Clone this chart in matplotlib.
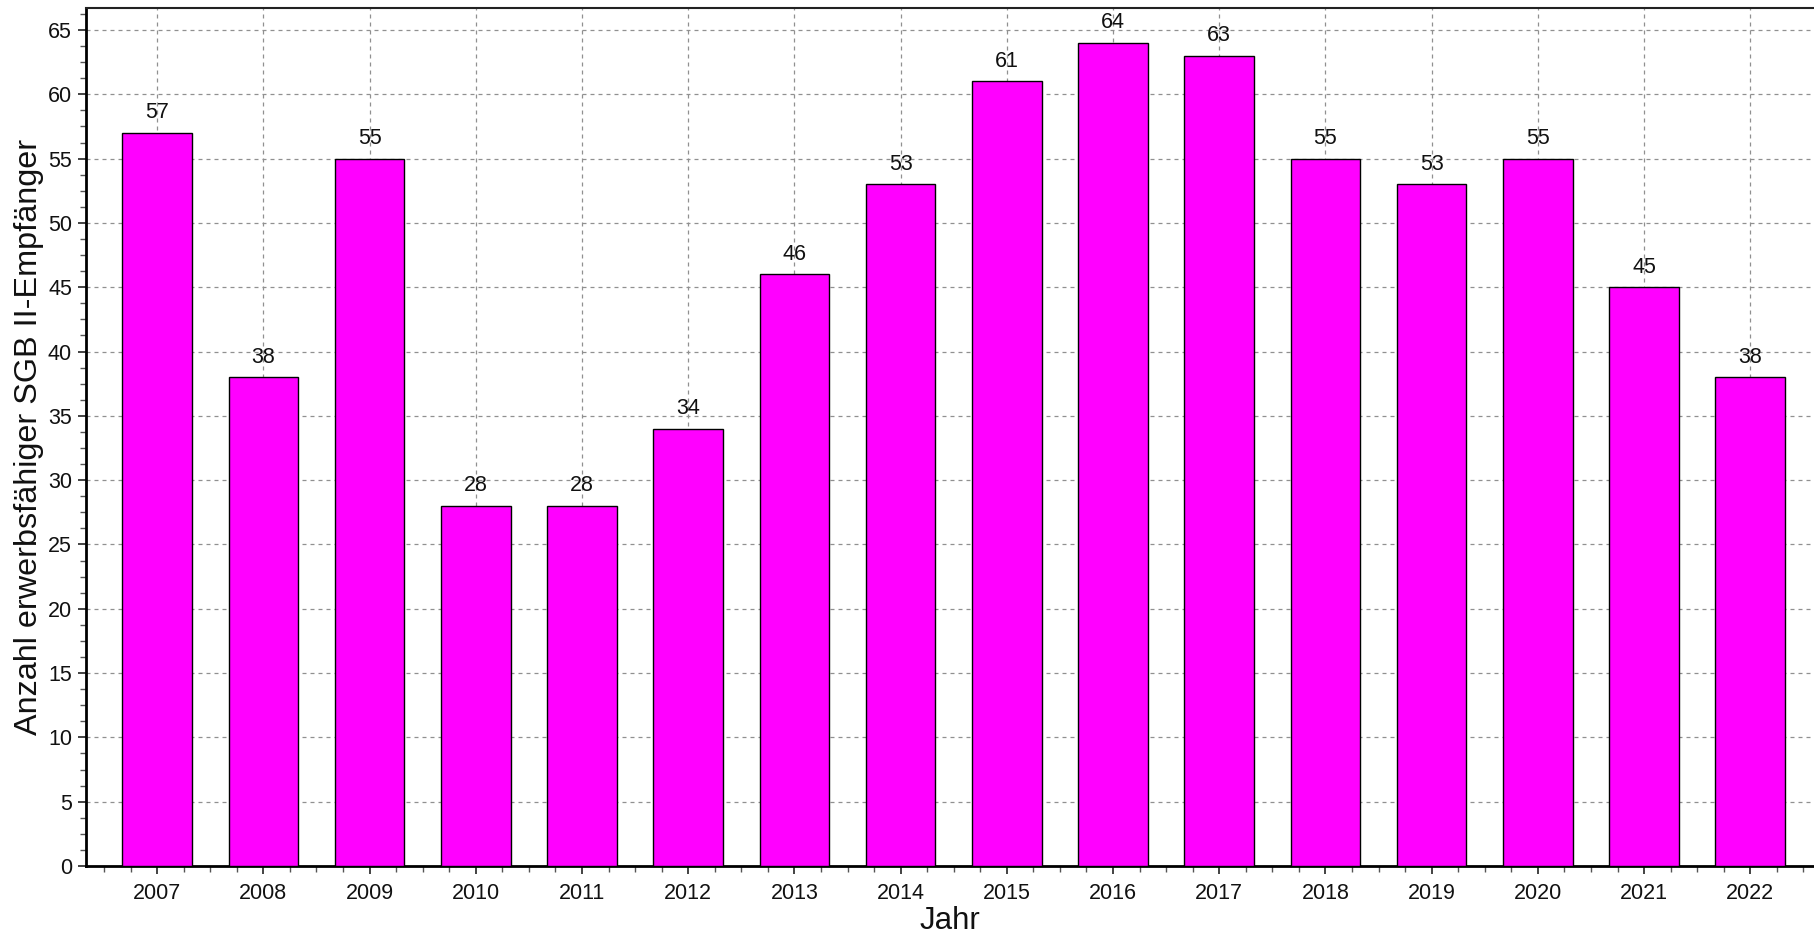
import matplotlib
matplotlib.use("Agg")
import matplotlib.pyplot as plt
from matplotlib.ticker import MultipleLocator

jahre = [2007, 2008, 2009, 2010, 2011, 2012, 2013, 2014,
         2015, 2016, 2017, 2018, 2019, 2020, 2021, 2022]
empfaenger = [57, 38, 55, 28, 28, 34, 46, 53,
              61, 64, 63, 55, 53, 55, 45, 38]

plt.rcParams['font.family'] = ['Liberation Sans', 'DejaVu Sans']

W, H = 1814, 934
fig = plt.figure(figsize=(W / 100, H / 100), dpi=100)
ax = fig.add_axes([86 / W, 68 / H, 1 - 86 / W, (866 - 7.5) / H])

bars = ax.bar(jahre, empfaenger, width=0.656, color='#ff00ff',
              edgecolor='black', linewidth=1.0, zorder=3)

# value above each bar
for x, v in zip(jahre, empfaenger):
    ax.annotate(str(v), (x, v), xytext=(0, 10.5), textcoords='offset points',
                ha='center', va='baseline', fontsize=15.5, color='#111111')

ax.set_xlim(2006.33, 2022.60)
ax.set_ylim(0, 66.75)

ax.xaxis.set_major_locator(MultipleLocator(1))
ax.xaxis.set_minor_locator(MultipleLocator(0.25))
ax.yaxis.set_major_locator(MultipleLocator(5))
ax.yaxis.set_minor_locator(MultipleLocator(1.25))

ax.tick_params(axis='both', which='major', length=6, width=1.2,
               labelsize=15.5, colors='#222222', labelcolor='#111111')
ax.tick_params(axis='both', which='minor', length=4, width=1.0, colors='#555555')
ax.tick_params(axis='x', which='major', pad=6)
ax.tick_params(axis='y', which='major', pad=4)

ax.grid(True, which='major', color='#909090', linestyle=(0, (3.2, 3.2)),
        linewidth=0.9, zorder=0)
ax.set_axisbelow(True)

for side in ('left', 'bottom'):
    ax.spines[side].set_linewidth(2.0)
    ax.spines[side].set_color('black')
ax.spines['top'].set_linewidth(1.5)
ax.spines['top'].set_color('#222222')
ax.spines['right'].set_visible(False)

ax.set_xlabel('Jahr', fontsize=22.5, color='#111111', labelpad=2)
ax.set_ylabel('Anzahl erwerbsfähiger SGB II-Empfänger', fontsize=23.3,
              color='#111111', labelpad=3)

fig.savefig('out.png', dpi=100)
